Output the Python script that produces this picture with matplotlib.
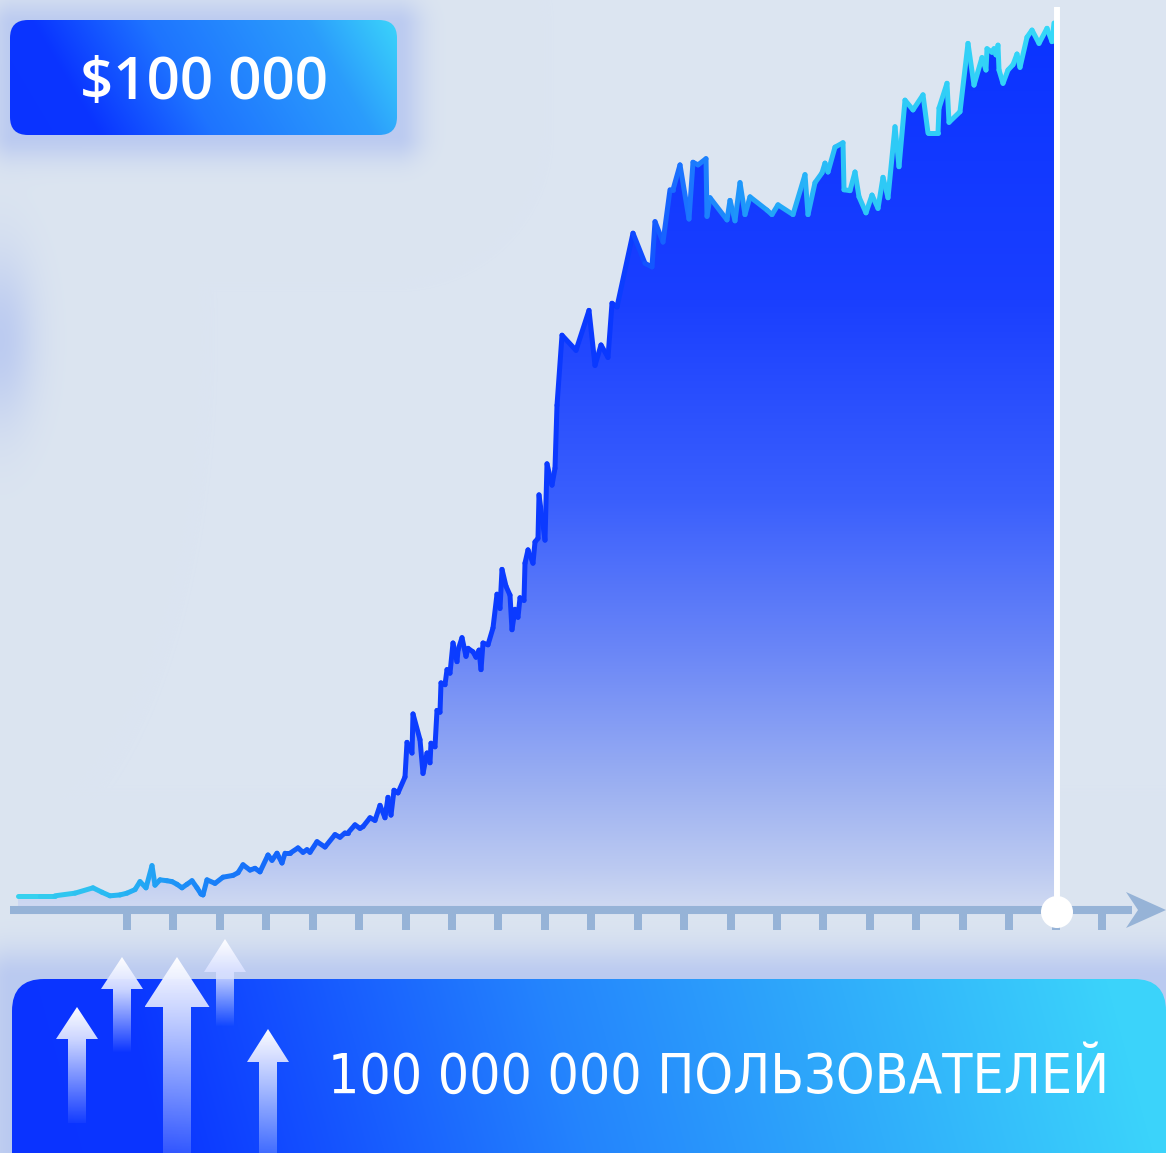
import numpy as np
import matplotlib
matplotlib.use("Agg")
import matplotlib.pyplot as plt
from matplotlib.collections import LineCollection
from matplotlib.patches import FancyBboxPatch, Polygon, Rectangle, Circle
from matplotlib.transforms import Affine2D
from matplotlib.colors import to_rgb

W, H = 1166, 1153

# price history: day number and price in thousands of USD
day = [0, 22, 37, 57, 75, 84, 92, 102, 109, 117, 122, 128, 134, 137, 142, 149,
       154, 159, 164, 169, 174, 179, 183, 185, 189, 197, 205, 215, 220, 225,
       232, 237, 242, 250, 254, 259, 264, 267, 272, 280, 285, 289, 292, 299,
       307, 317, 322, 327, 330, 337, 342, 345, 352, 357, 362, 367, 370, 373,
       376, 380, 387, 389, 394, 395, 402, 405, 409, 412, 413, 417, 419, 422,
       423, 427, 429, 432, 435, 439, 440, 444, 448, 450, 455, 458, 461, 463,
       465, 470, 475, 479, 482, 484, 488, 492, 494, 497, 500, 502, 506, 507,
       510, 515, 517, 520, 521, 527, 529, 534, 537, 539, 544, 558, 571, 577,
       583, 590, 594, 599, 615, 627, 634, 637, 645, 652, 655, 662, 671, 675,
       680, 688, 689, 692, 709, 712, 717, 722, 727, 732, 749, 754, 760, 775,
       787, 790, 797, 804, 807, 810, 817, 825, 826, 832, 837, 841, 848, 854,
       860, 865, 870, 877, 881, 887, 895, 905, 910, 920, 921, 929, 931, 942,
       950, 956, 964, 968, 969, 974, 976, 978, 980, 981, 985, 990, 995, 999,
       1002, 1009, 1014, 1021, 1029, 1034, 1036]
price_k = [1.6, 1.6, 1.6, 1.9, 2.5, 2.0, 1.6, 1.7, 1.9, 2.3, 3.2, 2.5, 5.0, 2.8,
           3.4, 3.3, 3.2, 2.9, 2.5, 2.9, 3.3, 2.5, 1.8, 1.7, 3.4, 3.0, 3.7, 3.9,
           4.2, 5.1, 4.5, 4.7, 4.3, 6.2, 5.6, 6.4, 5.3, 6.4, 6.4, 7.0, 6.5, 6.8,
           6.5, 7.7, 7.1, 8.5, 8.2, 8.7, 8.7, 9.6, 9.2, 9.4, 10.4, 10.1, 11.8,
           10.4, 12.7, 10.7, 13.5, 13.2, 15.0, 18.9, 17.7, 22.1, 19.2, 15.4,
           17.7, 16.6, 18.8, 18.4, 22.5, 22.3, 25.6, 25.4, 27.1, 26.7, 30.1,
           28.0, 29.3, 30.7, 28.6, 29.5, 29.1, 28.5, 29.3, 27.1, 30.1, 29.9,
           31.8, 35.6, 34.0, 38.4, 36.5, 35.5, 31.6, 33.9, 33.0, 35.2, 34.9,
           39.1, 40.6, 39.1, 41.5, 41.9, 46.8, 41.7, 50.3, 47.9, 49.8, 56.9,
           64.8, 63.1, 67.6, 61.4, 63.7, 62.3, 68.4, 68.0, 76.3, 72.9, 72.5,
           77.6, 75.3, 81.2, 81.2, 84.0, 77.9, 84.3, 84.0, 84.7, 78.2, 80.3,
           77.8, 80.0, 77.7, 82.0, 78.4, 80.4, 78.9, 78.4, 79.5, 78.4, 82.9,
           78.4, 82.0, 83.1, 84.2, 83.2, 86.0, 86.5, 81.2, 81.1, 83.2, 80.4,
           78.6, 80.6, 79.1, 82.6, 80.3, 88.3, 83.8, 91.3, 90.2, 91.9, 87.6,
           87.6, 90.4, 93.2, 88.8, 90.0, 97.7, 93.0, 96.1, 94.7, 97.1, 96.7,
           97.1, 96.4, 97.5, 94.7, 93.2, 94.7, 95.3, 96.5, 95.0, 98.4, 99.2,
           97.7, 99.4, 97.9, 100.0]

price_label = "$100 000"
users_label = "100 000 000 ПОЛЬЗОВАТЕЛЕЙ"
n_ticks = 22

# where the chart sits on the canvas (pixels, origin top-left)
DAY0_PX = 18
BASE_PX = 910
PX_PER_K = 8.87

BG = "#dce5f1"
AXIS = "#96b3d7"


def ramp(t, stops, colors):
    cols = np.array([to_rgb(c) for c in colors])
    return np.stack([np.interp(t, stops, cols[:, i]) for i in range(3)], axis=-1)


fig = plt.figure(figsize=(W / 100, H / 100), dpi=100, facecolor=BG)
ax = fig.add_axes([0, 0, 1, 1])
ax.axis("off")
pix = Affine2D().scale(1.0 / W, -1.0 / H).translate(0, 1) + fig.transFigure

# background with soft glows
yy, xx = np.mgrid[0:H, 0:W] + 0.5
bg = np.ones((H, W, 3)) * np.array(to_rgb(BG))


def rect_dist(x0, y0, x1, y1):
    dx = np.maximum(np.maximum(x0 - xx, xx - x1), 0)
    dy = np.maximum(np.maximum(y0 - yy, yy - y1), 0)
    return np.hypot(dx, dy)


def add_glow(img, dist, color, strength, sigma):
    a = (strength * np.exp(-(dist / sigma) ** 2))[..., None]
    return img * (1 - a) + np.array(to_rgb(color)) * a


bg = add_glow(bg, rect_dist(14, 26, 397, 135), "#8ea6f0", 0.42, 26)
bg = add_glow(bg, rect_dist(12, 979, 1166, 1153), "#9fb4f0", 0.55, 32)
bg = add_glow(bg, np.hypot(xx, (yy - 340) / 2.4), "#9db2f0", 0.5, 36)
ax.imshow(bg, extent=(0, W, H, 0), transform=pix, zorder=0, interpolation="bilinear")

# area under the price line, vertical gradient
top_k = (BASE_PX - 20) / PX_PER_K
rows_px = np.linspace(20, BASE_PX, 400)
fill_grad = ramp(rows_px, [20, 300, 500, 650, 780, 870, 910],
                 ["#0a33ff", "#1a3fff", "#3a5ffd", "#6a86f7", "#99aef2", "#bccaf1", "#d0daf1"])
area = Polygon([(day[0], 0)] + list(zip(day, price_k)) + [(day[-1], 0)], closed=True,
               facecolor="none", edgecolor="none", transform=ax.transData)
ax.add_patch(area)
im = ax.imshow(fill_grad[:, None, :], extent=(day[0], day[-1], 0, top_k),
               aspect="auto", origin="upper", zorder=1, interpolation="bilinear")
im.set_clip_path(area)

# price line, colour shifting along time
pts = np.column_stack([day, price_k])
segs = np.stack([pts[:-1], pts[1:]], axis=1)
mid_px = (pts[:-1, 0] + pts[1:, 0]) / 2 + DAY0_PX
seg_colors = ramp(mid_px, [18, 120, 200, 280, 400, 620, 680, 740, 850, 1054],
                  ["#38d4ee", "#27b6f3", "#1a86f8", "#1466fb", "#0c3dff", "#0a38ff",
                   "#1a70ff", "#1e96fb", "#2cc6f6", "#35d8f8"])
lc = LineCollection(segs, colors=seg_colors, linewidths=3.6, capstyle="round",
                    joinstyle="round", zorder=3)
ax.add_collection(lc)

# time axis with ticks and arrow
ax.plot([10, 1132], [BASE_PX, BASE_PX], transform=pix, color=AXIS, lw=5.8,
        solid_capstyle="butt", zorder=4)
for i in range(n_ticks):
    tx = 127 + i * 46.43
    ax.add_patch(Rectangle((tx - 4, BASE_PX + 3), 8, 17, transform=pix,
                           facecolor=AXIS, edgecolor="none", zorder=4))
ax.add_patch(Polygon([(1126, 892), (1166, 910), (1126, 928), (1138, 910)], closed=True,
                     transform=pix, facecolor=AXIS, edgecolor="none", zorder=4))

# current-point marker
mark_x = day[-1] + DAY0_PX + 3
ax.plot([mark_x, mark_x], [7, 912], transform=pix, color="white", lw=4.3,
        solid_capstyle="butt", zorder=5)
ax.add_patch(Circle((mark_x, 912), 16, transform=pix, facecolor="white",
                    edgecolor="none", zorder=6))

# price badge
bx0, by0, bx1, by1 = 10, 20, 397, 135
badge = FancyBboxPatch((bx0, by0), bx1 - bx0, by1 - by0,
                       boxstyle="round,pad=0,rounding_size=18", transform=pix,
                       facecolor="none", edgecolor="none", zorder=7)
ax.add_patch(badge)
gy, gx = np.mgrid[by0:by1, bx0:bx1] + 0.5
t = 0.85 * (gx - bx0) / (bx1 - bx0) + 0.15 * (1 - (gy - by0) / (by1 - by0))
badge_img = ramp(t, [0, 0.2, 0.45, 0.8, 1.0],
                 ["#0a33ff", "#0a35ff", "#1e74ff", "#2b9dfc", "#3bd4fa"])
bim = ax.imshow(badge_img, extent=(bx0, bx1, by1, by0), transform=pix, zorder=7,
                interpolation="bilinear")
bim.set_clip_path(badge)
ax.text(204, 99, price_label, transform=pix, ha="center", va="baseline",
        color="white", fontsize=42, fontfamily="Open Sans", fontweight="semibold",
        zorder=9)

# users banner
ux0, uy0, ux1, uy1 = 12, 979, 1166, 1200
banner = FancyBboxPatch((ux0, uy0), ux1 - ux0, uy1 - uy0,
                        boxstyle="round,pad=0,rounding_size=32", transform=pix,
                        facecolor="none", edgecolor="none", zorder=7)
ax.add_patch(banner)
gy, gx = np.mgrid[uy0:uy1, ux0:ux1] + 0.5
t = gx + 60 * (1 - (gy - uy0) / (uy1 - uy0))
banner_img = ramp(t, [12, 180, 330, 600, 900, 1166],
                  ["#0a33ff", "#0a35ff", "#1450ff", "#2484fd", "#30aefa", "#3bd3fa"])
uim = ax.imshow(banner_img, extent=(ux0, ux1, uy1, uy0), transform=pix, zorder=7,
                interpolation="bilinear")
uim.set_clip_path(banner)

# rising arrows: centre, tip, head base, head half width, shaft half width, end, end alpha
arrows = [(77, 1007, 1039, 21, 9, 1123, 0.05),
          (122, 957, 989, 21, 9, 1053, 0.0),
          (177, 957, 1007, 32.5, 14, 1153, 0.2),
          (225, 939, 972, 21, 9, 1027, 0.0),
          (268, 1029, 1062, 21, 9, 1153, 0.25)]
for cx, tip, base, hw, sw, end, a_end in arrows:
    shape = Polygon([(cx, tip), (cx + hw, base), (cx + sw, base), (cx + sw, end),
                     (cx - sw, end), (cx - sw, base), (cx - hw, base)], closed=True,
                    transform=pix, facecolor="none", edgecolor="none", zorder=8)
    ax.add_patch(shape)
    ys = np.linspace(tip, end, 200)
    rgba = np.ones((200, 1, 4))
    rgba[:, 0, 3] = np.interp(ys, [tip, base, end], [1.0, 0.95, a_end])
    rgba[:, 0, 2] = 1.0
    rgba[:, 0, 0] = np.interp(ys, [tip, base], [1.0, 0.85])
    rgba[:, 0, 1] = np.interp(ys, [tip, base], [1.0, 0.88])
    aim = ax.imshow(rgba, extent=(cx - hw, cx + hw, end, tip), transform=pix,
                    zorder=8, interpolation="bilinear", aspect="auto")
    aim.set_clip_path(shape)

ax.text(328, 1093, users_label, transform=pix, ha="left", va="baseline",
        color="white", fontsize=39.5, fontfamily="DejaVu Sans", fontstretch="condensed",
        fontweight="medium", zorder=9)

ax.set_xlim(-DAY0_PX, W - DAY0_PX)
ax.set_ylim((BASE_PX - H) / PX_PER_K, BASE_PX / PX_PER_K)

fig.savefig("out.png", dpi=100, facecolor=BG)
